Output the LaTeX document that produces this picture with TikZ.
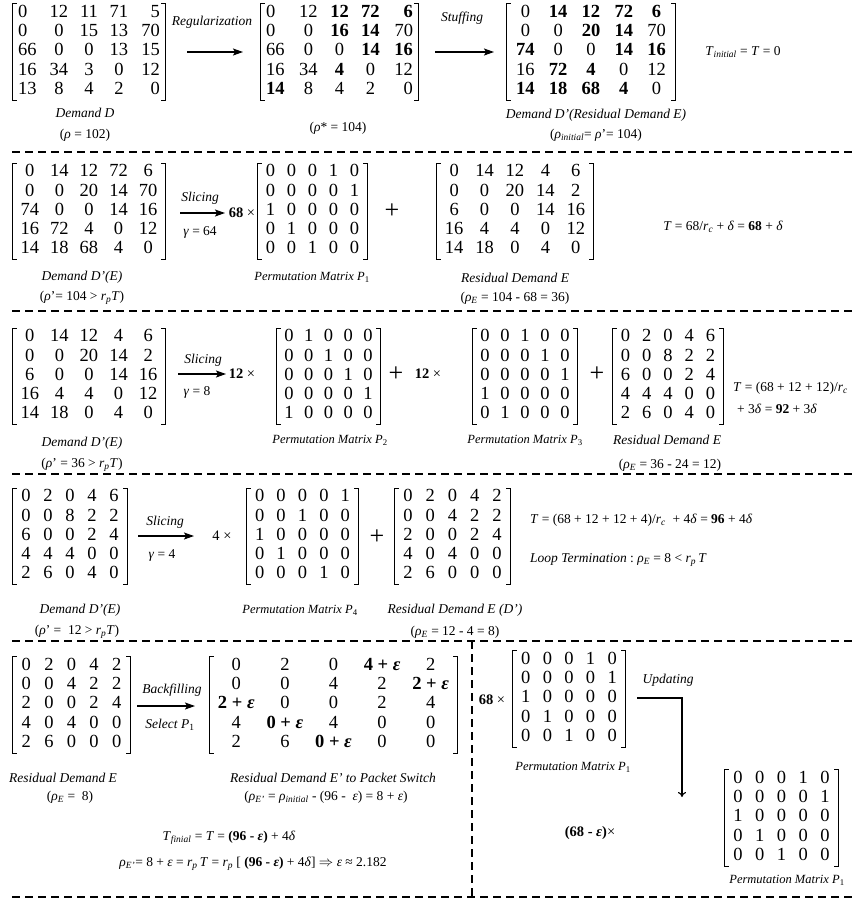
\documentclass[tikz,border=0pt]{standalone}
\usepackage{fontspec}
\setmainfont{Liberation Serif}
\usepackage{array}
\usetikzlibrary{arrows.meta}
\setlength\tabcolsep{0pt}
\newcolumntype{C}[1]{>{\centering\arraybackslash}p{#1}}
\newcolumntype{L}[1]{>{\raggedright\arraybackslash}p{#1}}
\newcolumntype{R}[1]{>{\raggedleft\arraybackslash}p{#1}}
\newcommand\lblf{\fontsize{13.5}{16}\selectfont}
\newcommand\matf{\fontsize{18.5}{19.3}\selectfont}
\newcommand\ti[1]{\textit{#1}}
\newcommand\sbs[1]{\textsubscript{\textit{#1}}}
\newcommand\bb[1]{\textbf{#1}}
\newcommand\bE{\textbf{\textit{ε}}}
\newcommand\mymat[5]{%
  \node[matnode] (#1) at (#2,#3) {\begin{tabular}{#4}#5\end{tabular}};
  \draw[brk] ([xshift=4pt]#1.north west) -- (#1.north west) -- (#1.south west) -- ([xshift=4pt]#1.south west);
  \draw[brk] ([xshift=-4pt]#1.north east) -- (#1.north east) -- (#1.south east) -- ([xshift=-4pt]#1.south east);
}
\newcommand\PA{0&0&0&1&0\\0&0&0&0&1\\1&0&0&0&0\\0&1&0&0&0\\0&0&1&0&0}
\begin{document}
\begin{tikzpicture}[x=1pt,y=-1pt,
  matnode/.style={inner xsep=2pt,inner ysep=0pt,font=\matf},
  brk/.style={line width=1pt},
  lab/.style={inner sep=0pt,font=\lblf\itshape},
  pml/.style={inner sep=0pt,font=\fontsize{12.5}{15}\selectfont\itshape},
  eq/.style={inner sep=0pt,font=\lblf},
  coef/.style={inner sep=0pt,font=\fontsize{14.5}{17}\selectfont},
  plus/.style={inner sep=0pt,font=\fontsize{26}{26}\selectfont},
  sepline/.style={dash pattern=on 8pt off 5pt,line width=1.1pt},
  arr/.style={-{Stealth[length=10pt,width=7pt,inset=2pt]},line width=1.3pt},
  darr/.style={-{To[length=5pt,width=8pt]},line width=1.1pt}]
\useasboundingbox (0,0) rectangle (860,911);

% separators
\coordinate (s1a) at (12,152); \coordinate (s1b) at (855,152);
\coordinate (s2a) at (12,311); \coordinate (s2b) at (855,311);
\coordinate (s3a) at (12,474); \coordinate (s3b) at (855,474);
\coordinate (s4a) at (12,641); \coordinate (s4b) at (855,641);
\coordinate (s5a) at (12,897); \coordinate (s5b) at (855,897);
\coordinate (v1a) at (472,641); \coordinate (v1b) at (472,897);
\draw[sepline] (s1a) -- (s1b);
\draw[sepline] (s2a) -- (s2b);
\draw[sepline] (s3a) -- (s3b);
\draw[sepline] (s4a) -- (s4b);
\draw[sepline] (s5a) -- (s5b);
\draw[sepline] (v1a) -- (v1b);

% ---------- Row 1
\mymat{m1}{89}{52}{@{\hspace{3pt}}L{26pt}*{3}{C{30pt}}R{26pt}@{\hspace{3pt}}}{0&12&11&71&5\\0&0&15&13&70\\66&0&0&13&15\\16&34&3&0&12\\13&8&4&2&0}
\mymat{m2}{339.5}{52}{@{\hspace{3pt}}L{27pt}*{3}{C{31pt}}R{27pt}@{\hspace{3pt}}}{0&12&\bb{12}&\bb{72}&\bb{6}\\0&0&\bb{16}&\bb{14}&70\\66&0&0&\bb{14}&\bb{16}\\16&34&\bb{4}&0&12\\\bb{14}&8&4&2&0}
\mymat{m3}{591}{52}{*{5}{C{32.8pt}}}{0&\bb{14}&\bb{12}&\bb{72}&\bb{6}\\0&0&\bb{20}&\bb{14}&70\\\bb{74}&0&0&\bb{14}&\bb{16}\\16&\bb{72}&\bb{4}&0&12\\\bb{14}&\bb{18}&\bb{68}&\bb{4}&0}
\node[lab] (reg) at (212,22) {Regularization};
\coordinate (a1s) at (187,52); \coordinate (a1e) at (243,52);
\draw[arr] (a1s) -- (a1e);
\node[lab] (stf) at (462,18) {Stuffing};
\coordinate (a2s) at (435,52); \coordinate (a2e) at (494,52);
\draw[arr] (a2s) -- (a2e);
\node[lab] (l1a) at (85,113) {Demand D};
\node[eq] (l1b) at (85,135) {(\ti{ρ} = 102)};
\node[eq] (l2) at (338,128) {(\ti{ρ}* = 104)};
\node[lab] (l3a) at (596,115) {Demand D’(Residual Demand E)};
\node[eq] (l3b) at (596,135) {(\ti{ρ}\sbs{initial}= \ti{ρ}’= 104)};
\node[eq] (t0) at (743,52) {\ti{T}\sbs{initial} = \ti{T} = 0};

% ---------- Row 2
\mymat{m4}{89}{211.5}{*{5}{C{29.6pt}}}{0&14&12&72&6\\0&0&20&14&70\\74&0&0&14&16\\16&72&4&0&12\\14&18&68&4&0}
\mymat{m5}{312.5}{211.5}{*{5}{C{21pt}}}{\PA}
\mymat{m6}{515}{211.5}{*{5}{C{30.4pt}}}{0&14&12&4&6\\0&0&20&14&2\\6&0&0&14&16\\16&4&4&0&12\\14&18&0&4&0}
\node[lab] (sl1) at (200,198) {Slicing};
\coordinate (a3s) at (180,213); \coordinate (a3e) at (225,213);
\draw[arr] (a3s) -- (a3e);
\node[eq] (g1) at (200,232) {\ti{γ} = 64};
\node[coef] (c1) at (242,213) {\bb{68} ×};
\node[plus] (pl1) at (392,211) {+};
\node[lab] (l4a) at (82,277) {Demand D’(E)};
\node[eq] (l4b) at (82,298) {(\ti{ρ}’= 104 > \ti{r}\sbs{p}\ti{T})};
\node[pml] (p1l) at (312,277) {Permutation Matrix P\textsubscript{\upshape 1}};
\node[lab] (r1a) at (515,278) {Residual Demand E};
\node[eq] (r1b) at (515,298) {(\ti{ρ}\sbs{E} = 104 - 68 = 36)};
\node[eq] (t1) at (723,227) {\ti{T} = 68/\ti{r}\sbs{c} + \ti{δ} = \bb{68} +\ \ti{δ}};

% ---------- Row 3
\mymat{m7}{89}{376.5}{*{5}{C{29.6pt}}}{0&14&12&4&6\\0&0&20&14&2\\6&0&0&14&16\\16&4&4&0&12\\14&18&0&4&0}
\mymat{m8}{328.5}{376.5}{*{5}{C{19.8pt}}}{0&1&0&0&0\\0&0&1&0&0\\0&0&0&1&0\\0&0&0&0&1\\1&0&0&0&0}
\mymat{m9}{525}{376.5}{*{5}{C{20pt}}}{0&0&1&0&0\\0&0&0&1&0\\0&0&0&0&1\\1&0&0&0&0\\0&1&0&0&0}
\mymat{m10}{668}{376.5}{*{5}{C{21.2pt}}}{0&2&0&4&6\\0&0&8&2&2\\6&0&0&2&4\\4&4&4&0&0\\2&6&0&4&0}
\node[lab] (sl2) at (203,360) {Slicing};
\coordinate (a4s) at (178,374); \coordinate (a4e) at (226,374);
\draw[arr] (a4s) -- (a4e);
\node[eq] (g2) at (197,392) {\ti{γ} = 8};
\node[coef] (c2) at (242,374) {\bb{12} ×};
\node[plus] (pl2) at (396,374) {+};
\node[coef] (c3) at (428,374) {\bb{12} ×};
\node[plus] (pl3) at (597,374) {+};
\node[lab] (l5a) at (82,443) {Demand D’(E)};
\node[eq] (l5b) at (82,465) {(\ti{ρ}’ = 36 > \ti{r}\sbs{p}\ti{T})};
\node[pml] (p2l) at (330,440) {Permutation Matrix P\textsubscript{\upshape 2}};
\node[pml] (p3l) at (525,440) {Permutation Matrix P\textsubscript{\upshape 3}};
\node[lab] (r2a) at (667,440) {Residual Demand E};
\node[eq] (r2b) at (670,465) {(\ti{ρ}\sbs{E} = 36 - 24 = 12)};
\node[eq,anchor=west] (t2a) at (733,388) {\ti{T} = (68 + 12 + 12)/\ti{r}\sbs{c}};
\node[eq,anchor=west] (t2b) at (737,409) {+ 3\ti{δ} = \bb{92} + 3\ti{δ}};

% ---------- Row 4
\mymat{m11}{70}{536.5}{*{5}{C{22pt}}}{0&2&0&4&6\\0&0&8&2&2\\6&0&0&2&4\\4&4&4&0&0\\2&6&0&4&0}
\mymat{m12}{302.5}{536.5}{*{5}{C{21.4pt}}}{0&0&0&0&1\\0&0&1&0&0\\1&0&0&0&0\\0&1&0&0&0\\0&0&0&1&0}
\mymat{m13}{452.5}{536.5}{*{5}{C{22.2pt}}}{0&2&0&4&2\\0&0&4&2&2\\2&0&0&2&4\\4&0&4&0&0\\2&6&0&0&0}
\node[lab] (sl3) at (165,522) {Slicing};
\coordinate (a5s) at (138,536); \coordinate (a5e) at (194,536);
\draw[arr] (a5s) -- (a5e);
\node[eq] (g3) at (162,555) {\ti{γ} = 4};
\node[coef] (c4) at (222,536) {4 ×};
\node[plus] (pl4) at (377,537) {+};
\node[eq,anchor=west] (t3) at (530,520) {\ti{T} = (68 + 12 + 12 + 4)/\ti{r}\sbs{c}\ \ + 4\ti{δ} = \bb{96} + 4\ti{δ}};
\node[eq,anchor=west] (lt) at (530,560) {\ti{Loop Termination} :\ \ti{ρ}\sbs{E} = 8 < \ti{r}\sbs{p}\,\ti{T}};
\node[lab] (l6a) at (80,610) {Demand D’(E)};
\node[eq] (l6b) at (77,632) {(\ti{ρ}’ =\ \ 12 > \ti{r}\sbs{p}\ti{T})};
\node[pml] (p4l) at (300,610) {Permutation Matrix P\textsubscript{\upshape 4}};
\node[lab] (r3a) at (455,610) {Residual Demand E (D’)};
\node[eq] (r3b) at (455,632) {(\ti{ρ}\sbs{E} = 12 - 4 = 8)};

% ---------- Row 5
\mymat{m14}{71.5}{705}{*{5}{C{22.6pt}}}{0&2&0&4&2\\0&0&4&2&2\\2&0&0&2&4\\4&0&4&0&0\\2&6&0&0&0}
\mymat{m15}{333.5}{705}{*{5}{C{48.6pt}}}{0&2&0&\bb{4 + \bE}&2\\0&0&4&2&\bb{2 + \bE}\\\bb{2 + \bE}&0&0&2&4\\4&\bb{0 + \bE}&4&0&0\\2&6&\bb{0 + \bE}&0&0}
\node[lab] (bf) at (172,690) {Backfilling};
\coordinate (a6s) at (137,706); \coordinate (a6e) at (195,706);
\draw[arr] (a6s) -- (a6e);
\node[lab] (sel) at (170,725) {Select P\textsubscript{\upshape 1}};
\node[lab] (r4a) at (63,778) {Residual Demand E};
\node[eq] (r4b) at (70,797) {(\ti{ρ}\sbs{E} =\ \ 8)};
\node[lab] (r5a) at (333,778) {Residual Demand E’ to Packet Switch};
\node[eq] (r5b) at (326,797) {(\ti{ρ}\sbs{E’} = \ti{ρ}\sbs{initial} - (96 -\ \ \ti{ε}) = 8 + \ti{ε})};
\node[eq] (tf) at (229,838) {\ti{T}\sbs{finial} = \ti{T} = \bb{(96 - \ti{ε})} + 4\ti{δ}};
\node[eq] (rho) at (253,864) {\ti{ρ}\sbs{E’}= 8 + \ti{ε} = \ti{r}\sbs{p}\,\ti{T} = \ti{r}\sbs{p} [ \bb{(96 - \ti{ε})} + 4\ti{δ}] $\Rightarrow$ \ti{ε} ≈ 2.182};

\mymat{m16}{569}{699}{*{5}{C{21.6pt}}}{\PA}
\node[coef] (c5) at (492,700) {\bb{68} ×};
\node[pml] (p5l) at (573,767) {Permutation Matrix P\textsubscript{\upshape 1}};
\node[lab] (upd) at (668,680) {Updating};
\coordinate (u1) at (637,698); \coordinate (u2) at (682,797);
\draw[darr] (u1) -| (u2);
\node[coef] (c6) at (590,833) {\bb{(68 - \ti{ε})}×};
\mymat{m17}{781.5}{818}{*{5}{C{21.8pt}}}{\PA}
\node[pml] (p6l) at (787,880) {Permutation Matrix P\textsubscript{\upshape 1}};
\end{tikzpicture}
\end{document}
